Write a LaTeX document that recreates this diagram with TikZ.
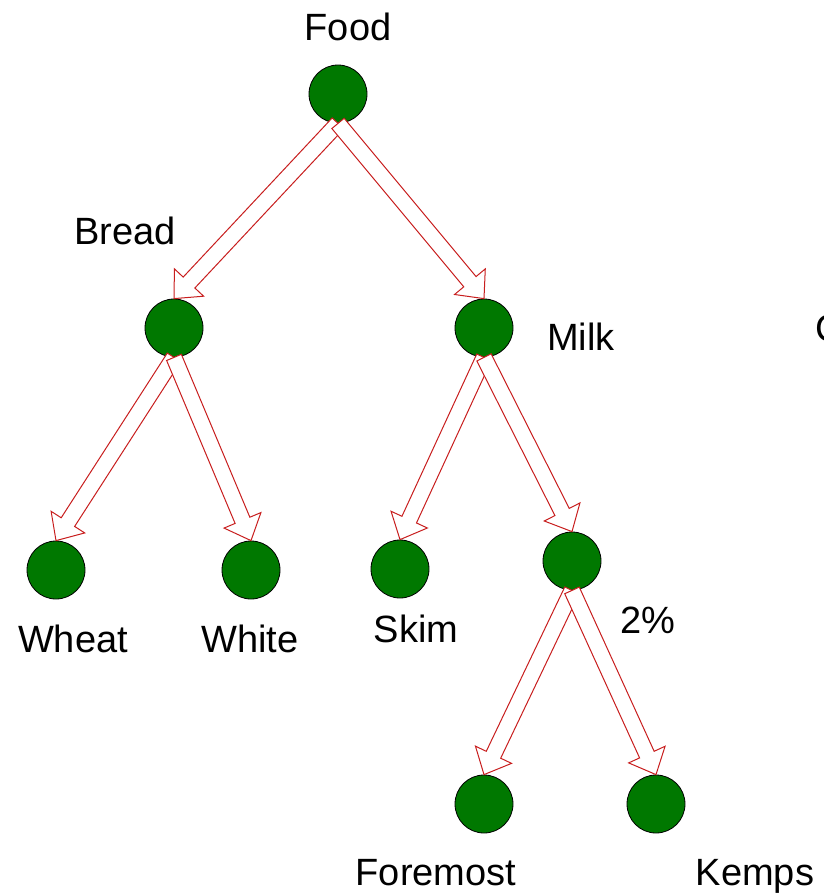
\documentclass[tikz,border=0pt]{standalone}
\usepackage{fontspec}
\setmainfont{Liberation Sans}
\usetikzlibrary{calc}
\tikzset{
  leaf/.style={circle, draw=black, line width=0.8pt, fill={rgb,255:red,0;green,120;blue,0}, minimum size=58pt, inner sep=0pt},
  lbl/.style={font=\fontsize{38}{40}\selectfont, anchor=base, inner sep=0pt},
  fat/.style={draw={rgb,255:red,200;green,30;blue,30}, line width=1pt, fill=white, line join=miter}
}
\newcommand\fatarrow[2]{%
  \path (#1) coordinate (fa1) (#2) coordinate (fa2) ($(fa2)!22pt!(fa1)$) coordinate (fah);
  \draw[fat] ($(fa1)!8pt!90:(fa2)$) -- ($(fah)!8pt!90:(fa2)$) -- ($(fah)!20pt!90:(fa2)$) -- (fa2)
    -- ($(fah)!20pt!-90:(fa2)$) -- ($(fah)!8pt!-90:(fa2)$) -- ($(fa1)!8pt!-90:(fa2)$) -- cycle;}
\begin{document}
\begin{tikzpicture}[x=1pt,y=-1pt]
\useasboundingbox (0,0) rectangle (823,895);
\node[leaf] (food) at (338,94) {};
\node[leaf] (bread) at (174,328) {};
\node[leaf] (milk) at (484,328) {};
\node[leaf] (wheat) at (56,570) {};
\node[leaf] (white) at (251,570) {};
\node[leaf] (skim) at (400,569) {};
\node[leaf] (two) at (572,561) {};
\node[leaf] (foremost) at (484,804) {};
\node[leaf] (kemps) at (656,804) {};
\fatarrow{food.south}{bread.north}
\fatarrow{food.south}{milk.north}
\fatarrow{bread.south}{wheat.north}
\fatarrow{bread.south}{white.north}
\fatarrow{milk.south}{skim.north}
\fatarrow{milk.south}{two.north}
\fatarrow{two.south}{foremost.north}
\fatarrow{two.south}{kemps.north}
\node[lbl] (tfood) at (348,40) {Food};
\node[lbl] (tbread) at (125,244) {Bread};
\node[lbl] (tmilk) at (581,350) {Milk};
\node[lbl] (twheat) at (73,652) {Wheat};
\node[lbl] (twhite) at (250,652) {White};
\node[lbl] (tskim) at (416,642) {Skim};
\node[lbl] (ttwo) at (648,633) {2\%};
\node[lbl] (tforemost) at (436,885) {Foremost};
\node[lbl] (tkemps) at (755,885) {Kemps};
\node[lbl, anchor=base west] (tc) at (815,341) {C};
\end{tikzpicture}
\end{document}
